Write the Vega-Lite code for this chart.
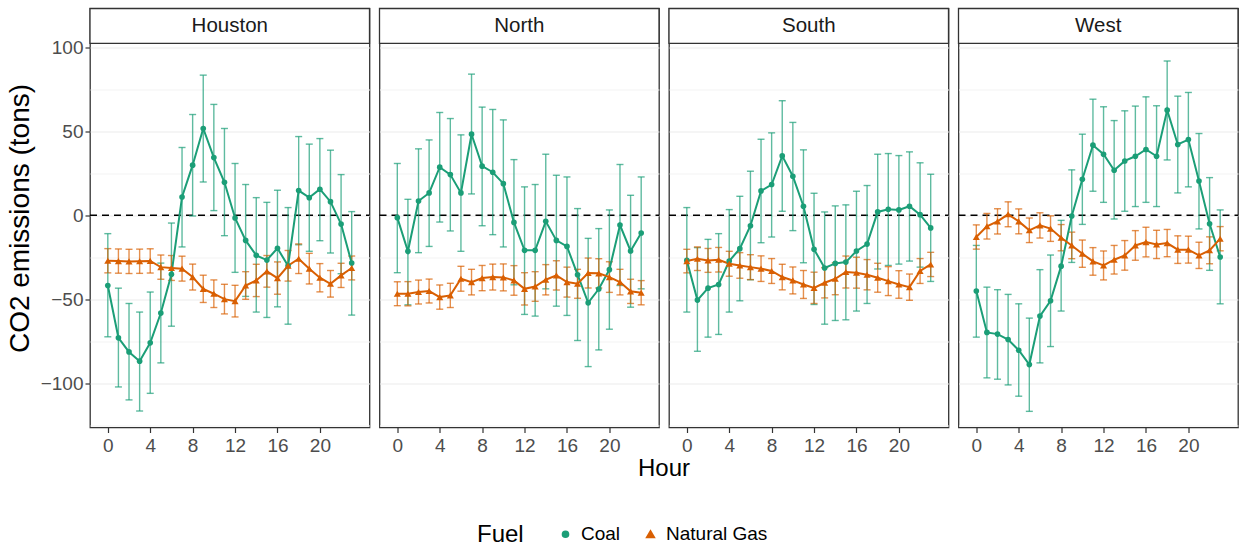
{
  "$schema": "https://vega.github.io/schema/vega-lite/v6.json",
  "padding": {"left": 6, "top": 6.5, "right": 0, "bottom": 0},
  "bounds": "flush",
  "background": "white",
  "datasets": {
    "emis": [
      {"region":"Houston","fuel":"Coal","hour":0,"mean":-41.7,"lo":-72.2,"hi":-10.9},
      {"region":"Houston","fuel":"Coal","hour":1,"mean":-72.8,"lo":-102.0,"hi":-43.3},
      {"region":"Houston","fuel":"Coal","hour":2,"mean":-81.2,"lo":-109.7,"hi":-52.4},
      {"region":"Houston","fuel":"Coal","hour":3,"mean":-86.7,"lo":-116.3,"hi":-57.5},
      {"region":"Houston","fuel":"Coal","hour":4,"mean":-75.8,"lo":-105.8,"hi":-45.6},
      {"region":"Houston","fuel":"Coal","hour":5,"mean":-58.1,"lo":-87.7,"hi":-28.4},
      {"region":"Houston","fuel":"Coal","hour":6,"mean":-35.1,"lo":-65.9,"hi":-4.6},
      {"region":"Houston","fuel":"Coal","hour":7,"mean":10.9,"lo":-18.8,"hi":40.3},
      {"region":"Houston","fuel":"Coal","hour":8,"mean":29.8,"lo":-0.4,"hi":59.9},
      {"region":"Houston","fuel":"Coal","hour":9,"mean":51.6,"lo":19.8,"hi":83.3},
      {"region":"Houston","fuel":"Coal","hour":10,"mean":34.3,"lo":2.8,"hi":65.9},
      {"region":"Houston","fuel":"Coal","hour":11,"mean":19.6,"lo":-12.1,"hi":51.6},
      {"region":"Houston","fuel":"Coal","hour":12,"mean":-1.6,"lo":-33.9,"hi":30.8},
      {"region":"Houston","fuel":"Coal","hour":13,"mean":-14.9,"lo":-48.2,"hi":18.3},
      {"region":"Houston","fuel":"Coal","hour":14,"mean":-23.8,"lo":-57.5,"hi":10.5},
      {"region":"Houston","fuel":"Coal","hour":15,"mean":-26.6,"lo":-60.7,"hi":7.7},
      {"region":"Houston","fuel":"Coal","hour":16,"mean":-19.6,"lo":-54.4,"hi":14.9},
      {"region":"Houston","fuel":"Coal","hour":17,"mean":-30.0,"lo":-64.7,"hi":4.6},
      {"region":"Houston","fuel":"Coal","hour":18,"mean":14.7,"lo":-17.5,"hi":46.8},
      {"region":"Houston","fuel":"Coal","hour":19,"mean":10.5,"lo":-21.4,"hi":42.3},
      {"region":"Houston","fuel":"Coal","hour":20,"mean":15.5,"lo":-15.1,"hi":45.6},
      {"region":"Houston","fuel":"Coal","hour":21,"mean":8.1,"lo":-22.4,"hi":38.7},
      {"region":"Houston","fuel":"Coal","hour":22,"mean":-5.2,"lo":-34.7,"hi":24.2},
      {"region":"Houston","fuel":"Coal","hour":23,"mean":-28.4,"lo":-59.3,"hi":2.2},
      {"region":"Houston","fuel":"Natural Gas","hour":0,"mean":-27.0,"lo":-34.2,"hi":-19.8},
      {"region":"Houston","fuel":"Natural Gas","hour":1,"mean":-27.2,"lo":-34.4,"hi":-20.0},
      {"region":"Houston","fuel":"Natural Gas","hour":2,"mean":-27.4,"lo":-34.6,"hi":-20.2},
      {"region":"Houston","fuel":"Natural Gas","hour":3,"mean":-27.3,"lo":-34.5,"hi":-20.1},
      {"region":"Houston","fuel":"Natural Gas","hour":4,"mean":-27.1,"lo":-34.3,"hi":-19.9},
      {"region":"Houston","fuel":"Natural Gas","hour":5,"mean":-30.8,"lo":-38.0,"hi":-23.6},
      {"region":"Houston","fuel":"Natural Gas","hour":6,"mean":-31.3,"lo":-38.7,"hi":-23.9},
      {"region":"Houston","fuel":"Natural Gas","hour":7,"mean":-31.7,"lo":-39.1,"hi":-24.3},
      {"region":"Houston","fuel":"Natural Gas","hour":8,"mean":-36.7,"lo":-44.4,"hi":-29.0},
      {"region":"Houston","fuel":"Natural Gas","hour":9,"mean":-43.7,"lo":-51.8,"hi":-35.6},
      {"region":"Houston","fuel":"Natural Gas","hour":10,"mean":-46.6,"lo":-54.8,"hi":-38.4},
      {"region":"Houston","fuel":"Natural Gas","hour":11,"mean":-49.8,"lo":-58.6,"hi":-41.0},
      {"region":"Houston","fuel":"Natural Gas","hour":12,"mean":-51.0,"lo":-60.4,"hi":-41.6},
      {"region":"Houston","fuel":"Natural Gas","hour":13,"mean":-41.7,"lo":-49.9,"hi":-33.5},
      {"region":"Houston","fuel":"Natural Gas","hour":14,"mean":-38.7,"lo":-48.3,"hi":-29.1},
      {"region":"Houston","fuel":"Natural Gas","hour":15,"mean":-33.3,"lo":-42.7,"hi":-23.9},
      {"region":"Houston","fuel":"Natural Gas","hour":16,"mean":-37.3,"lo":-46.9,"hi":-27.7},
      {"region":"Houston","fuel":"Natural Gas","hour":17,"mean":-30.0,"lo":-39.1,"hi":-20.9},
      {"region":"Houston","fuel":"Natural Gas","hour":18,"mean":-25.8,"lo":-34.6,"hi":-17.0},
      {"region":"Houston","fuel":"Natural Gas","hour":19,"mean":-31.7,"lo":-40.8,"hi":-22.6},
      {"region":"Houston","fuel":"Natural Gas","hour":20,"mean":-37.1,"lo":-45.5,"hi":-28.7},
      {"region":"Houston","fuel":"Natural Gas","hour":21,"mean":-40.7,"lo":-48.6,"hi":-32.8},
      {"region":"Houston","fuel":"Natural Gas","hour":22,"mean":-35.7,"lo":-42.9,"hi":-28.5},
      {"region":"Houston","fuel":"Natural Gas","hour":23,"mean":-31.3,"lo":-38.4,"hi":-24.2},
      {"region":"North","fuel":"Coal","hour":0,"mean":-1.4,"lo":-34.1,"hi":30.8},
      {"region":"North","fuel":"Coal","hour":1,"mean":-21.4,"lo":-53.2,"hi":9.5},
      {"region":"North","fuel":"Coal","hour":2,"mean":8.5,"lo":-22.2,"hi":39.5},
      {"region":"North","fuel":"Coal","hour":3,"mean":13.3,"lo":-18.5,"hi":44.8},
      {"region":"North","fuel":"Coal","hour":4,"mean":28.6,"lo":-4.0,"hi":61.1},
      {"region":"North","fuel":"Coal","hour":5,"mean":24.2,"lo":-9.3,"hi":57.5},
      {"region":"North","fuel":"Coal","hour":6,"mean":13.3,"lo":-21.4,"hi":47.8},
      {"region":"North","fuel":"Coal","hour":7,"mean":48.2,"lo":12.7,"hi":83.9},
      {"region":"North","fuel":"Coal","hour":8,"mean":29.2,"lo":-6.2,"hi":64.3},
      {"region":"North","fuel":"Coal","hour":9,"mean":25.6,"lo":-11.5,"hi":62.9},
      {"region":"North","fuel":"Coal","hour":10,"mean":18.8,"lo":-18.8,"hi":56.7},
      {"region":"North","fuel":"Coal","hour":11,"mean":-4.2,"lo":-41.3,"hi":33.1},
      {"region":"North","fuel":"Coal","hour":12,"mean":-20.8,"lo":-58.9,"hi":16.9},
      {"region":"North","fuel":"Coal","hour":13,"mean":-20.8,"lo":-59.9,"hi":18.3},
      {"region":"North","fuel":"Coal","hour":14,"mean":-3.6,"lo":-43.7,"hi":36.3},
      {"region":"North","fuel":"Coal","hour":15,"mean":-14.9,"lo":-54.0,"hi":23.8},
      {"region":"North","fuel":"Coal","hour":16,"mean":-18.5,"lo":-59.5,"hi":22.8},
      {"region":"North","fuel":"Coal","hour":17,"mean":-35.3,"lo":-74.4,"hi":4.0},
      {"region":"North","fuel":"Coal","hour":18,"mean":-52.0,"lo":-89.9,"hi":-13.7},
      {"region":"North","fuel":"Coal","hour":19,"mean":-43.8,"lo":-80.0,"hi":-7.9},
      {"region":"North","fuel":"Coal","hour":20,"mean":-32.3,"lo":-67.7,"hi":3.2},
      {"region":"North","fuel":"Coal","hour":21,"mean":-5.8,"lo":-41.7,"hi":30.2},
      {"region":"North","fuel":"Coal","hour":22,"mean":-21.2,"lo":-54.6,"hi":11.9},
      {"region":"North","fuel":"Coal","hour":23,"mean":-10.5,"lo":-43.7,"hi":22.8},
      {"region":"North","fuel":"Natural Gas","hour":0,"mean":-46.6,"lo":-53.7,"hi":-39.5},
      {"region":"North","fuel":"Natural Gas","hour":1,"mean":-46.6,"lo":-53.8,"hi":-39.4},
      {"region":"North","fuel":"Natural Gas","hour":2,"mean":-45.6,"lo":-52.7,"hi":-38.5},
      {"region":"North","fuel":"Natural Gas","hour":3,"mean":-45.0,"lo":-52.1,"hi":-37.9},
      {"region":"North","fuel":"Natural Gas","hour":4,"mean":-48.6,"lo":-55.8,"hi":-41.4},
      {"region":"North","fuel":"Natural Gas","hour":5,"mean":-47.6,"lo":-54.8,"hi":-40.4},
      {"region":"North","fuel":"Natural Gas","hour":6,"mean":-37.7,"lo":-45.1,"hi":-30.3},
      {"region":"North","fuel":"Natural Gas","hour":7,"mean":-39.7,"lo":-47.3,"hi":-32.1},
      {"region":"North","fuel":"Natural Gas","hour":8,"mean":-37.3,"lo":-44.8,"hi":-29.8},
      {"region":"North","fuel":"Natural Gas","hour":9,"mean":-36.7,"lo":-44.4,"hi":-29.0},
      {"region":"North","fuel":"Natural Gas","hour":10,"mean":-36.9,"lo":-44.9,"hi":-28.9},
      {"region":"North","fuel":"Natural Gas","hour":11,"mean":-38.7,"lo":-47.5,"hi":-29.9},
      {"region":"North","fuel":"Natural Gas","hour":12,"mean":-43.7,"lo":-53.3,"hi":-34.1},
      {"region":"North","fuel":"Natural Gas","hour":13,"mean":-42.3,"lo":-51.1,"hi":-33.5},
      {"region":"North","fuel":"Natural Gas","hour":14,"mean":-38.3,"lo":-47.3,"hi":-29.3},
      {"region":"North","fuel":"Natural Gas","hour":15,"mean":-35.7,"lo":-44.4,"hi":-27.0},
      {"region":"North","fuel":"Natural Gas","hour":16,"mean":-39.7,"lo":-48.6,"hi":-30.8},
      {"region":"North","fuel":"Natural Gas","hour":17,"mean":-40.7,"lo":-49.3,"hi":-32.1},
      {"region":"North","fuel":"Natural Gas","hour":18,"mean":-34.3,"lo":-43.2,"hi":-25.4},
      {"region":"North","fuel":"Natural Gas","hour":19,"mean":-34.5,"lo":-43.2,"hi":-25.8},
      {"region":"North","fuel":"Natural Gas","hour":20,"mean":-36.7,"lo":-45.8,"hi":-27.6},
      {"region":"North","fuel":"Natural Gas","hour":21,"mean":-39.7,"lo":-47.3,"hi":-32.1},
      {"region":"North","fuel":"Natural Gas","hour":22,"mean":-45.2,"lo":-52.4,"hi":-38.0},
      {"region":"North","fuel":"Natural Gas","hour":23,"mean":-46.0,"lo":-53.2,"hi":-38.8},
      {"region":"South","fuel":"Coal","hour":0,"mean":-26.8,"lo":-57.5,"hi":4.6},
      {"region":"South","fuel":"Coal","hour":1,"mean":-50.4,"lo":-80.8,"hi":-19.2},
      {"region":"South","fuel":"Coal","hour":2,"mean":-43.3,"lo":-72.4,"hi":-14.3},
      {"region":"South","fuel":"Coal","hour":3,"mean":-41.1,"lo":-70.8,"hi":-10.9},
      {"region":"South","fuel":"Coal","hour":4,"mean":-27.2,"lo":-57.5,"hi":3.4},
      {"region":"South","fuel":"Coal","hour":5,"mean":-19.8,"lo":-50.8,"hi":11.3},
      {"region":"South","fuel":"Coal","hour":6,"mean":-6.2,"lo":-38.3,"hi":26.2},
      {"region":"South","fuel":"Coal","hour":7,"mean":14.5,"lo":-16.3,"hi":45.2},
      {"region":"South","fuel":"Coal","hour":8,"mean":18.3,"lo":-12.9,"hi":49.0},
      {"region":"South","fuel":"Coal","hour":9,"mean":35.3,"lo":2.4,"hi":68.1},
      {"region":"South","fuel":"Coal","hour":10,"mean":23.2,"lo":-9.1,"hi":55.2},
      {"region":"South","fuel":"Coal","hour":11,"mean":5.4,"lo":-28.2,"hi":38.9},
      {"region":"South","fuel":"Coal","hour":12,"mean":-20.2,"lo":-53.0,"hi":13.1},
      {"region":"South","fuel":"Coal","hour":13,"mean":-31.3,"lo":-64.7,"hi":2.0},
      {"region":"South","fuel":"Coal","hour":14,"mean":-28.6,"lo":-62.5,"hi":5.6},
      {"region":"South","fuel":"Coal","hour":15,"mean":-27.8,"lo":-62.1,"hi":6.2},
      {"region":"South","fuel":"Coal","hour":16,"mean":-21.2,"lo":-56.9,"hi":14.3},
      {"region":"South","fuel":"Coal","hour":17,"mean":-17.1,"lo":-52.4,"hi":17.7},
      {"region":"South","fuel":"Coal","hour":18,"mean":2.0,"lo":-31.9,"hi":36.3},
      {"region":"South","fuel":"Coal","hour":19,"mean":3.6,"lo":-29.8,"hi":36.7},
      {"region":"South","fuel":"Coal","hour":20,"mean":3.2,"lo":-29.0,"hi":35.5},
      {"region":"South","fuel":"Coal","hour":21,"mean":5.4,"lo":-27.2,"hi":37.7},
      {"region":"South","fuel":"Coal","hour":22,"mean":0.4,"lo":-30.8,"hi":31.2},
      {"region":"South","fuel":"Coal","hour":23,"mean":-7.5,"lo":-39.3,"hi":24.4},
      {"region":"South","fuel":"Natural Gas","hour":0,"mean":-27.2,"lo":-34.2,"hi":-20.2},
      {"region":"South","fuel":"Natural Gas","hour":1,"mean":-25.8,"lo":-32.8,"hi":-18.8},
      {"region":"South","fuel":"Natural Gas","hour":2,"mean":-26.8,"lo":-33.9,"hi":-19.7},
      {"region":"South","fuel":"Natural Gas","hour":3,"mean":-26.4,"lo":-33.7,"hi":-19.1},
      {"region":"South","fuel":"Natural Gas","hour":4,"mean":-28.8,"lo":-36.2,"hi":-21.4},
      {"region":"South","fuel":"Natural Gas","hour":5,"mean":-29.8,"lo":-37.4,"hi":-22.2},
      {"region":"South","fuel":"Natural Gas","hour":6,"mean":-30.8,"lo":-38.2,"hi":-23.4},
      {"region":"South","fuel":"Natural Gas","hour":7,"mean":-31.7,"lo":-39.3,"hi":-24.1},
      {"region":"South","fuel":"Natural Gas","hour":8,"mean":-33.1,"lo":-40.5,"hi":-25.7},
      {"region":"South","fuel":"Natural Gas","hour":9,"mean":-36.7,"lo":-44.3,"hi":-29.1},
      {"region":"South","fuel":"Natural Gas","hour":10,"mean":-38.7,"lo":-46.7,"hi":-30.7},
      {"region":"South","fuel":"Natural Gas","hour":11,"mean":-41.1,"lo":-49.4,"hi":-32.8},
      {"region":"South","fuel":"Natural Gas","hour":12,"mean":-43.1,"lo":-52.4,"hi":-33.8},
      {"region":"South","fuel":"Natural Gas","hour":13,"mean":-40.1,"lo":-49.1,"hi":-31.1},
      {"region":"South","fuel":"Natural Gas","hour":14,"mean":-37.7,"lo":-47.2,"hi":-28.2},
      {"region":"South","fuel":"Natural Gas","hour":15,"mean":-33.7,"lo":-43.2,"hi":-24.2},
      {"region":"South","fuel":"Natural Gas","hour":16,"mean":-34.1,"lo":-43.3,"hi":-24.9},
      {"region":"South","fuel":"Natural Gas","hour":17,"mean":-35.3,"lo":-44.3,"hi":-26.3},
      {"region":"South","fuel":"Natural Gas","hour":18,"mean":-37.1,"lo":-45.7,"hi":-28.5},
      {"region":"South","fuel":"Natural Gas","hour":19,"mean":-39.1,"lo":-47.7,"hi":-30.5},
      {"region":"South","fuel":"Natural Gas","hour":20,"mean":-41.1,"lo":-49.3,"hi":-32.9},
      {"region":"South","fuel":"Natural Gas","hour":21,"mean":-42.7,"lo":-50.5,"hi":-34.9},
      {"region":"South","fuel":"Natural Gas","hour":22,"mean":-33.1,"lo":-40.5,"hi":-25.7},
      {"region":"South","fuel":"Natural Gas","hour":23,"mean":-29.2,"lo":-36.4,"hi":-22.0},
      {"region":"West","fuel":"Coal","hour":0,"mean":-45.0,"lo":-72.4,"hi":-17.9},
      {"region":"West","fuel":"Coal","hour":1,"mean":-69.6,"lo":-96.6,"hi":-42.7},
      {"region":"West","fuel":"Coal","hour":2,"mean":-70.6,"lo":-97.4,"hi":-44.2},
      {"region":"West","fuel":"Coal","hour":3,"mean":-73.8,"lo":-100.8,"hi":-47.0},
      {"region":"West","fuel":"Coal","hour":4,"mean":-80.2,"lo":-107.5,"hi":-52.6},
      {"region":"West","fuel":"Coal","hour":5,"mean":-88.7,"lo":-116.5,"hi":-61.1},
      {"region":"West","fuel":"Coal","hour":6,"mean":-59.9,"lo":-87.7,"hi":-32.3},
      {"region":"West","fuel":"Coal","hour":7,"mean":-50.8,"lo":-78.0,"hi":-23.6},
      {"region":"West","fuel":"Coal","hour":8,"mean":-30.2,"lo":-56.9,"hi":-3.0},
      {"region":"West","fuel":"Coal","hour":9,"mean":-0.4,"lo":-28.0,"hi":27.0},
      {"region":"West","fuel":"Coal","hour":10,"mean":21.4,"lo":-5.4,"hi":48.2},
      {"region":"West","fuel":"Coal","hour":11,"mean":41.7,"lo":14.3,"hi":69.0},
      {"region":"West","fuel":"Coal","hour":12,"mean":36.3,"lo":7.7,"hi":64.5},
      {"region":"West","fuel":"Coal","hour":13,"mean":26.8,"lo":-2.2,"hi":56.3},
      {"region":"West","fuel":"Coal","hour":14,"mean":32.3,"lo":2.4,"hi":62.1},
      {"region":"West","fuel":"Coal","hour":15,"mean":35.1,"lo":5.2,"hi":64.9},
      {"region":"West","fuel":"Coal","hour":16,"mean":39.1,"lo":7.7,"hi":70.4},
      {"region":"West","fuel":"Coal","hour":17,"mean":35.1,"lo":5.2,"hi":65.1},
      {"region":"West","fuel":"Coal","hour":18,"mean":62.5,"lo":32.9,"hi":91.7},
      {"region":"West","fuel":"Coal","hour":19,"mean":42.1,"lo":13.3,"hi":70.8},
      {"region":"West","fuel":"Coal","hour":20,"mean":45.0,"lo":16.9,"hi":73.0},
      {"region":"West","fuel":"Coal","hour":21,"mean":20.4,"lo":-8.1,"hi":48.6},
      {"region":"West","fuel":"Coal","hour":22,"mean":-5.0,"lo":-32.7,"hi":22.4},
      {"region":"West","fuel":"Coal","hour":23,"mean":-24.8,"lo":-52.6,"hi":3.2},
      {"region":"West","fuel":"Natural Gas","hour":0,"mean":-12.9,"lo":-20.1,"hi":-5.7},
      {"region":"West","fuel":"Natural Gas","hour":1,"mean":-6.5,"lo":-14.1,"hi":1.1},
      {"region":"West","fuel":"Natural Gas","hour":2,"mean":-3.6,"lo":-11.1,"hi":3.9},
      {"region":"West","fuel":"Natural Gas","hour":3,"mean":0.6,"lo":-6.8,"hi":8.0},
      {"region":"West","fuel":"Natural Gas","hour":4,"mean":-3.6,"lo":-11.0,"hi":3.8},
      {"region":"West","fuel":"Natural Gas","hour":5,"mean":-8.9,"lo":-16.2,"hi":-1.6},
      {"region":"West","fuel":"Natural Gas","hour":6,"mean":-6.0,"lo":-13.5,"hi":1.5},
      {"region":"West","fuel":"Natural Gas","hour":7,"mean":-7.9,"lo":-15.5,"hi":-0.3},
      {"region":"West","fuel":"Natural Gas","hour":8,"mean":-13.3,"lo":-21.1,"hi":-5.5},
      {"region":"West","fuel":"Natural Gas","hour":9,"mean":-17.9,"lo":-25.8,"hi":-10.0},
      {"region":"West","fuel":"Natural Gas","hour":10,"mean":-22.8,"lo":-30.9,"hi":-14.7},
      {"region":"West","fuel":"Natural Gas","hour":11,"mean":-27.4,"lo":-35.6,"hi":-19.2},
      {"region":"West","fuel":"Natural Gas","hour":12,"mean":-29.8,"lo":-38.4,"hi":-21.2},
      {"region":"West","fuel":"Natural Gas","hour":13,"mean":-26.4,"lo":-34.9,"hi":-17.9},
      {"region":"West","fuel":"Natural Gas","hour":14,"mean":-23.8,"lo":-32.6,"hi":-15.0},
      {"region":"West","fuel":"Natural Gas","hour":15,"mean":-17.9,"lo":-26.7,"hi":-9.1},
      {"region":"West","fuel":"Natural Gas","hour":16,"mean":-15.9,"lo":-24.7,"hi":-7.1},
      {"region":"West","fuel":"Natural Gas","hour":17,"mean":-17.3,"lo":-25.7,"hi":-8.9},
      {"region":"West","fuel":"Natural Gas","hour":18,"mean":-16.5,"lo":-24.6,"hi":-8.4},
      {"region":"West","fuel":"Natural Gas","hour":19,"mean":-20.4,"lo":-28.6,"hi":-12.2},
      {"region":"West","fuel":"Natural Gas","hour":20,"mean":-20.4,"lo":-28.4,"hi":-12.4},
      {"region":"West","fuel":"Natural Gas","hour":21,"mean":-23.8,"lo":-31.6,"hi":-16.0},
      {"region":"West","fuel":"Natural Gas","hour":22,"mean":-20.8,"lo":-28.8,"hi":-12.8},
      {"region":"West","fuel":"Natural Gas","hour":23,"mean":-13.9,"lo":-21.1,"hi":-6.7}
    ]
  },
  "data": {"name": "emis"},
  "facet": {
    "column": {
      "field": "region",
      "type": "nominal",
      "title": "Hour",
      "header": {
        "labels": false,
        "titleOrient": "bottom",
        "titleFontSize": 24,
        "titleFontWeight": "normal",
        "titleColor": "#000000",
        "titlePadding": -9
      }
    }
  },
  "spacing": {"column": 9.5},
  "spec": {
    "width": 279.5,
    "height": 419,
    "encoding": {
      "x": {
        "field": "hour",
        "type": "quantitative",
        "title": null,
        "scale": {"domain": [-1.68, 24.68], "nice": false, "zero": false},
        "axis": {"values": [0, 4, 8, 12, 16, 20], "grid": false, "labelPadding": 4}
      },
      "y": {
        "field": "mean",
        "type": "quantitative",
        "title": "CO2 emissions (tons)",
        "scale": {"domain": [-126.1, 122.9], "nice": false, "zero": false},
        "axis": {
          "values": [-125, -100, -75, -50, -25, 0, 25, 50, 75, 100],
          "labelExpr": "datum.value % 50 === 0 ? datum.label : ''",
          "grid": true,
          "titleFontSize": 28,
          "titlePadding": 6,
          "gridColor": {"condition": {"test": "datum.value % 50 !== 0", "value": "#F4F4F4"}, "value": "#EBEBEB"},
          "tickOpacity": {"condition": {"test": "datum.value % 50 !== 0", "value": 0}, "value": 1}
        }
      }
    },
    "layer": [
      {
        "transform": [{"filter": "datum.hour === 0 && datum.fuel === 'Coal'"}],
        "mark": {"type": "rect", "fill": "#FFFFFF", "stroke": "#333333", "strokeWidth": 1.3},
        "encoding": {
          "x": {"datum": -1.68, "type": "quantitative", "title": null},
          "x2": {"datum": 24.68},
          "y": {"datum": 102.2, "type": "quantitative", "title": "CO2 emissions (tons)"},
          "y2": {"datum": 122.9}
        }
      },
      {
        "transform": [{"filter": "datum.hour === 0 && datum.fuel === 'Coal'"}],
        "mark": {"type": "text", "fontSize": 20.5, "color": "#1A1A1A", "baseline": "middle", "align": "center"},
        "encoding": {
          "x": {"datum": 11.5, "type": "quantitative", "title": null},
          "y": {"datum": 112.6, "type": "quantitative", "title": "CO2 emissions (tons)"},
          "text": {"field": "region"}
        }
      },
      {
        "transform": [{"filter": "datum.hour === 0 && datum.fuel === 'Coal'"}],
        "mark": {"type": "rule", "color": "#000000", "strokeWidth": 1.4, "strokeDash": [7, 5]},
        "encoding": {
          "x": {"datum": -1.68, "type": "quantitative", "title": null},
          "x2": {"datum": 24.68},
          "y": {"datum": 0, "type": "quantitative", "title": "CO2 emissions (tons)"}
        }
      },
      {
        "mark": {"type": "errorbar", "ticks": {"size": 7}, "thickness": 1.4, "opacity": 0.7},
        "encoding": {
          "y": {"field": "lo", "type": "quantitative", "title": "CO2 emissions (tons)"},
          "y2": {"field": "hi"},
          "color": {
            "field": "fuel",
            "type": "nominal",
            "scale": {"domain": ["Coal", "Natural Gas"], "range": ["#1B9E77", "#D95F02"]},
            "legend": {
              "title": "Fuel", "orient": "bottom", "direction": "horizontal", "titleOrient": "left",
              "offset": 44, "symbolSize": 1521, "symbolStrokeWidth": 2, "symbolOpacity": 1,
              "labelOffset": 6, "columnPadding": 20, "titlePadding": 32,
              "encode": {"symbols": {"update": {
                "shape": {"signal": "datum.value === 'Coal' ? 'M-1,0L1,0M0.12,0A0.12,0.12,0,1,1,-0.12,0A0.12,0.12,0,1,1,0.12,0Z' : 'M-1,0L1,0M0,-0.18L0.17,0.12L-0.17,0.12Z'"},
                "size": {"value": 1521},
                "stroke": {"signal": "datum.value === 'Coal' ? '#1B9E77' : '#D95F02'"},
                "fill": {"signal": "datum.value === 'Coal' ? '#1B9E77' : '#D95F02'"},
                "strokeWidth": {"value": 2},
                "opacity": {"value": 1}
              }}}
            }
          }
        }
      },
      {
        "mark": {"type": "line", "strokeWidth": 2},
        "encoding": {
          "color": {
            "field": "fuel",
            "type": "nominal",
            "legend": {
              "title": "Fuel", "orient": "bottom", "direction": "horizontal", "titleOrient": "left",
              "offset": 44, "symbolSize": 1521, "symbolStrokeWidth": 2, "symbolOpacity": 1,
              "labelOffset": 6, "columnPadding": 20, "titlePadding": 32,
              "encode": {"symbols": {"update": {
                "shape": {"signal": "datum.value === 'Coal' ? 'M-1,0L1,0M0.12,0A0.12,0.12,0,1,1,-0.12,0A0.12,0.12,0,1,1,0.12,0Z' : 'M-1,0L1,0M0,-0.18L0.17,0.12L-0.17,0.12Z'"},
                "size": {"value": 1521},
                "stroke": {"signal": "datum.value === 'Coal' ? '#1B9E77' : '#D95F02'"},
                "fill": {"signal": "datum.value === 'Coal' ? '#1B9E77' : '#D95F02'"},
                "strokeWidth": {"value": 2},
                "opacity": {"value": 1}
              }}}
            }
          }
        }
      },
      {
        "mark": {"type": "point", "filled": true, "opacity": 1},
        "encoding": {
          "shape": {"field": "fuel", "type": "nominal", "scale": {"domain": ["Coal", "Natural Gas"], "range": ["circle", "triangle-up"]}, "legend": null},
          "size": {"field": "fuel", "type": "nominal", "scale": {"domain": ["Coal", "Natural Gas"], "range": [32, 50]}, "legend": null},
          "color": {
            "field": "fuel",
            "type": "nominal",
            "legend": {
              "title": "Fuel", "orient": "bottom", "direction": "horizontal", "titleOrient": "left",
              "offset": 44, "symbolSize": 1521, "symbolStrokeWidth": 2, "symbolOpacity": 1,
              "labelOffset": 6, "columnPadding": 20, "titlePadding": 32,
              "encode": {"symbols": {"update": {
                "shape": {"signal": "datum.value === 'Coal' ? 'M-1,0L1,0M0.12,0A0.12,0.12,0,1,1,-0.12,0A0.12,0.12,0,1,1,0.12,0Z' : 'M-1,0L1,0M0,-0.18L0.17,0.12L-0.17,0.12Z'"},
                "size": {"value": 1521},
                "stroke": {"signal": "datum.value === 'Coal' ? '#1B9E77' : '#D95F02'"},
                "fill": {"signal": "datum.value === 'Coal' ? '#1B9E77' : '#D95F02'"},
                "strokeWidth": {"value": 2},
                "opacity": {"value": 1}
              }}}
            }
          }
        }
      }
    ]
  },
  "config": {
    "font": "Liberation Sans",
    "view": {"stroke": "#333333", "strokeWidth": 1.3},
    "axis": {
      "domain": false,
      "tickColor": "#333333",
      "tickSize": 5,
      "tickWidth": 1.2,
      "labelColor": "#4D4D4D",
      "labelFontSize": 19,
      "labelPadding": 2,
      "titleFontSize": 24,
      "titleFontWeight": "normal",
      "titleColor": "#000000",
      "gridWidth": 1.1
    },
    "legend": {
      "titleFontSize": 24,
      "titleFontWeight": "normal",
      "titleColor": "#000000",
      "labelFontSize": 19,
      "labelColor": "#000000",
      "layout": {"bottom": {"anchor": "middle"}}
    }
  }
}
